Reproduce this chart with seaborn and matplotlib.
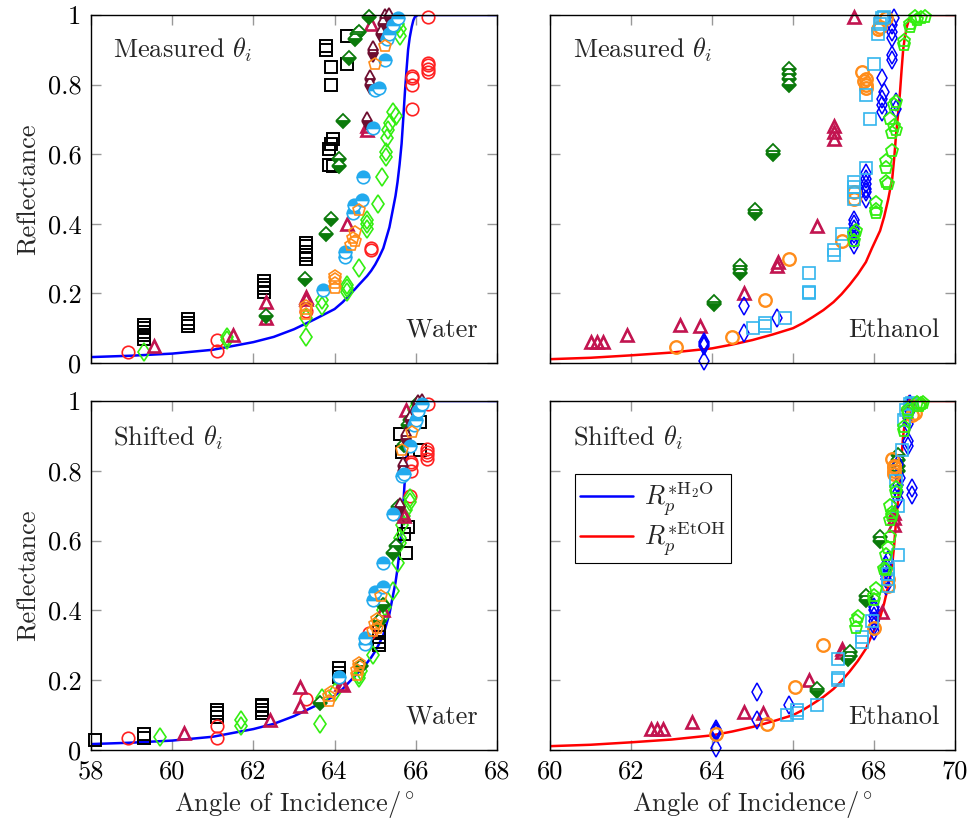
import numpy as np
import pandas as pd
import seaborn as sns
import matplotlib
matplotlib.use("Agg")
import matplotlib.pyplot as plt
from matplotlib.lines import Line2D

# ---------------- theory curves ----------------
water_curve_x = [58, 59, 60, 61, 62, 62.5, 63, 63.5, 64, 64.2, 64.5, 64.6, 64.8, 64.9, 65.0, 65.1,
                 65.2, 65.25, 65.35, 65.4, 65.45, 65.5, 65.55, 65.6, 65.65, 65.69, 65.73, 65.77,
                 65.81, 65.85, 65.9, 65.94, 65.98, 66.05, 68]
water_curve_y = [0.017, 0.021, 0.027, 0.038, 0.06, 0.075, 0.097, 0.125, 0.155, 0.175, 0.212, 0.225,
                 0.25, 0.265, 0.283, 0.305, 0.33, 0.35, 0.39, 0.42, 0.45, 0.48, 0.52, 0.57, 0.63,
                 0.70, 0.775, 0.84, 0.90, 0.935, 0.966, 0.985, 0.995, 1.0, 1.0]
etoh_curve_x = [60, 61, 62, 63, 64, 64.5, 65, 65.5, 66, 66.25, 66.5, 66.75, 67, 67.2, 67.4, 67.6,
                67.8, 67.95, 68.15, 68.25, 68.35, 68.4, 68.45, 68.5, 68.54, 68.59, 68.64, 68.68,
                68.72, 68.76, 68.81, 68.86, 68.93, 69.0, 70]
etoh_curve_y = [0.011, 0.015, 0.022, 0.03, 0.042, 0.053, 0.066, 0.082, 0.10, 0.115, 0.133, 0.152,
                0.175, 0.198, 0.225, 0.255, 0.29, 0.33, 0.38, 0.42, 0.47, 0.50, 0.53, 0.59, 0.65,
                0.71, 0.775, 0.84, 0.90, 0.935, 0.966, 0.985, 0.997, 1.0, 1.0]

# ---------------- water, measured ----------------
w_sq_m_x = [59.3, 59.3, 59.3, 59.3, 59.3, 60.4, 60.4, 60.4, 62.25, 62.25, 62.25, 62.25, 63.3, 63.3,
            63.3, 63.3, 63.3, 63.85, 63.95, 63.85, 63.9, 63.95, 63.9, 63.9, 63.8, 63.8, 64.3, 64.3]
w_sq_m_y = [0.07, 0.08, 0.09, 0.10, 0.11, 0.105, 0.115, 0.125, 0.205, 0.215, 0.225, 0.235, 0.30,
            0.31, 0.32, 0.335, 0.345, 0.57, 0.565, 0.615, 0.63, 0.645, 0.80, 0.85, 0.90, 0.91, 0.86, 0.94]
w_rc_m_x = [58.9, 61.1, 61.1, 63.3, 64.9, 64.9, 65.9, 65.9, 65.9, 65.9, 66.3, 66.3, 66.3, 66.3, 66.3]
w_rc_m_y = [0.032, 0.066, 0.035, 0.15, 0.325, 0.33, 0.82, 0.825, 0.80, 0.73, 0.835, 0.845, 0.855,
            0.862, 0.995]
w_ld_m_x = [59.3, 61.35, 61.35, 63.3, 63.3, 63.7, 63.7, 64.3, 64.3, 64.3, 64.6, 64.8, 64.8, 64.8,
            65.07, 65.17, 65.27, 65.27, 65.28, 65.32, 65.36, 65.5, 65.45, 65.6, 65.6, 65.55]
w_ld_m_y = [0.032, 0.065, 0.075, 0.075, 0.13, 0.165, 0.18, 0.205, 0.215, 0.225, 0.273, 0.385, 0.40,
            0.41, 0.457, 0.535, 0.593, 0.607, 0.646, 0.67, 0.689, 0.71, 0.722, 0.94, 0.96, 0.975]
w_tr_m_x = [59.55, 61.5, 62.3, 62.3, 63.3, 63.3, 64.3, 64.8, 64.8, 64.9]
w_tr_m_y = [0.048, 0.08, 0.175, 0.13, 0.19, 0.185, 0.40, 0.68, 0.67, 0.975]
w_gd_m_x = [62.3, 63.28, 63.78, 63.9, 64.1, 64.1, 64.2, 64.35, 64.5, 64.55, 64.6, 64.85]
w_gd_m_y = [0.135, 0.24, 0.37, 0.415, 0.565, 0.585, 0.695, 0.875, 0.93, 0.945, 0.95, 0.995]
w_md_m_x = [64.8, 64.88, 64.88, 64.95, 64.95, 65.15, 65.2, 65.25, 65.35]
w_md_m_y = [0.695, 0.80, 0.815, 0.89, 0.90, 0.945, 0.975, 0.99, 0.995]
w_cc_m_x = [63.72, 64.25, 64.25, 64.45, 64.49, 64.68, 64.7, 64.95, 65.0, 65.1, 65.24, 65.3, 65.35,
            65.45, 65.55]
w_cc_m_y = [0.21, 0.305, 0.32, 0.43, 0.454, 0.468, 0.535, 0.675, 0.785, 0.79, 0.87, 0.93, 0.945,
            0.97, 0.99]
w_op_m_x = [63.3, 63.3, 63.3, 64.0, 64.0, 64.0, 64.0, 64.4, 64.5, 64.45, 64.5, 64.6, 65.0, 65.25]
w_op_m_y = [0.14, 0.155, 0.165, 0.215, 0.23, 0.24, 0.25, 0.34, 0.35, 0.36, 0.375, 0.44, 0.86, 0.91]

# ---------------- water, shifted ----------------
w_sq_s_x = [58.1, 59.3, 59.3, 61.1, 61.1, 61.1, 62.2, 62.2, 62.2, 62.2, 64.1, 64.1, 64.1, 65.1, 65.1,
            65.1, 65.1, 65.75, 65.7, 65.8, 65.65, 65.6, 66.1, 66.1]
w_sq_s_y = [0.03, 0.035, 0.045, 0.095, 0.105, 0.115, 0.105, 0.115, 0.125, 0.13, 0.21, 0.22, 0.235,
            0.30, 0.31, 0.325, 0.34, 0.565, 0.62, 0.64, 0.855, 0.905, 0.86, 0.94]
w_rc_s_x = [58.9, 61.1, 61.1, 63.3, 64.85, 65.88, 65.88, 65.88, 65.85, 66.28, 66.28, 66.28, 66.28, 66.3]
w_rc_s_y = [0.034, 0.069, 0.035, 0.146, 0.335, 0.82, 0.825, 0.80, 0.728, 0.835, 0.845, 0.855,
            0.862, 0.99]
w_ld_s_x = [59.7, 61.7, 61.7, 63.65, 63.7, 64.0, 64.6, 64.6, 64.65, 64.95, 65.2, 65.2, 65.25, 65.45,
            65.55, 65.62, 65.62, 65.65, 65.7, 65.75, 65.85, 65.85, 66.0, 66.0, 65.95]
w_ld_s_y = [0.037, 0.07, 0.085, 0.075, 0.15, 0.165, 0.205, 0.215, 0.225, 0.273, 0.385, 0.40, 0.41,
            0.457, 0.535, 0.593, 0.607, 0.646, 0.67, 0.689, 0.71, 0.722, 0.94, 0.96, 0.975]
w_tr_s_x = [60.3, 62.4, 63.15, 63.15, 64.15, 64.2, 65.18, 65.68, 65.7, 65.75]
w_tr_s_y = [0.05, 0.085, 0.18, 0.125, 0.19, 0.185, 0.40, 0.68, 0.67, 0.975]
w_gd_s_x = [63.65, 64.65, 65.1, 65.2, 65.45, 65.5, 65.55, 65.7, 65.8, 65.85, 65.9, 66.05]
w_gd_s_y = [0.135, 0.24, 0.37, 0.415, 0.565, 0.585, 0.695, 0.875, 0.93, 0.945, 0.95, 0.995]
w_md_s_x = [65.6, 65.68, 65.68, 65.75, 65.75, 65.85, 66.0, 66.05, 66.15]
w_md_s_y = [0.695, 0.80, 0.815, 0.89, 0.90, 0.945, 0.975, 0.99, 0.995]
w_cc_s_x = [64.1, 64.75, 64.75, 64.95, 65.0, 65.2, 65.2, 65.45, 65.65, 65.7, 65.85, 65.95, 66.0,
            66.05, 66.15]
w_cc_s_y = [0.21, 0.305, 0.32, 0.43, 0.454, 0.468, 0.535, 0.675, 0.785, 0.79, 0.87, 0.93, 0.945,
            0.97, 0.99]
w_op_s_x = [63.85, 63.85, 63.9, 64.55, 64.55, 64.6, 64.6, 64.95, 65.05, 65.0, 65.05, 65.15, 65.65, 65.9]
w_op_s_y = [0.14, 0.155, 0.165, 0.215, 0.23, 0.24, 0.25, 0.34, 0.35, 0.36, 0.375, 0.44, 0.86, 0.91]

# ---------------- ethanol, measured ----------------
e_tr_m_x = [61.0, 61.15, 61.32, 61.9, 63.2, 63.7, 64.8, 65.6, 65.62, 66.6, 67.0, 67.0, 67.0, 67.5]
e_tr_m_y = [0.06, 0.06, 0.06, 0.08, 0.11, 0.105, 0.2, 0.28, 0.29, 0.395, 0.645, 0.665, 0.68, 0.995]
e_gd_m_x = [64.05, 64.05, 64.7, 64.7, 64.7, 65.05, 65.05, 65.5, 65.5, 65.9, 65.9, 65.9, 65.9]
e_gd_m_y = [0.17, 0.175, 0.26, 0.27, 0.28, 0.43, 0.44, 0.60, 0.61, 0.80, 0.815, 0.83, 0.845]
e_bd_m_x = [63.8, 63.8, 63.8, 63.8, 64.8, 64.8, 65.6, 67.8, 67.8, 67.8, 67.8, 67.8, 67.8, 67.5, 67.5,
            67.5, 67.5, 67.5, 67.5, 68.2, 68.2, 68.2, 68.25, 68.2, 68.45, 68.45, 68.45, 68.45, 68.45,
            68.5, 68.55, 68.55]
e_bd_m_y = [0.05, 0.055, 0.06, 0.005, 0.165, 0.085, 0.13, 0.47, 0.49, 0.50, 0.515, 0.53, 0.545, 0.34,
            0.355, 0.37, 0.385, 0.40, 0.41, 0.72, 0.74, 0.76, 0.78, 0.82, 0.87, 0.885, 0.935, 0.95,
            0.97, 0.99, 0.73, 0.75]
e_oc_m_x = [63.1, 64.5, 65.3, 65.9, 67.2, 67.5, 67.5, 67.7, 67.75, 67.8, 67.8, 67.8, 68.1, 68.15, 68.3]
e_oc_m_y = [0.045, 0.075, 0.18, 0.30, 0.35, 0.47, 0.49, 0.835, 0.81, 0.80, 0.79, 0.815, 0.96, 0.965, 0.99]
e_bs_m_x = [65.0, 65.3, 65.3, 65.8, 66.4, 66.4, 66.4, 67.0, 67.0, 67.2, 67.5, 67.5, 67.5, 67.5, 67.8,
            67.9, 67.8, 68.0, 68.1, 68.15, 68.2, 68.25]
e_bs_m_y = [0.10, 0.105, 0.115, 0.13, 0.20, 0.205, 0.26, 0.31, 0.325, 0.37, 0.47, 0.49, 0.505, 0.52,
            0.56, 0.70, 0.77, 0.86, 0.945, 0.975, 0.99, 0.995]
e_lp_m_x = [67.5, 67.5, 67.55, 68.05, 68.05, 68.05, 68.3, 68.35, 68.3, 68.3, 68.45, 68.45, 68.55, 68.5,
            68.4, 68.5, 68.55, 68.75, 68.75, 68.9, 68.9, 69.0, 69.05, 69.15, 69.25]
e_lp_m_y = [0.35, 0.37, 0.38, 0.43, 0.44, 0.46, 0.52, 0.515, 0.56, 0.58, 0.61, 0.66, 0.67, 0.68, 0.70,
            0.74, 0.75, 0.915, 0.925, 0.965, 0.975, 0.995, 0.985, 0.99, 0.995]

# ---------------- ethanol, shifted ----------------
e_tr_s_x = [62.5, 62.65, 62.8, 63.5, 64.8, 65.25, 66.4, 67.2, 67.2, 68.2, 68.5, 68.5, 68.5, 68.85]
e_tr_s_y = [0.06, 0.06, 0.06, 0.08, 0.11, 0.105, 0.2, 0.28, 0.29, 0.395, 0.645, 0.665, 0.68, 0.995]
e_gd_s_x = [66.6, 66.6, 67.35, 67.4, 67.4, 67.8, 67.8, 68.15, 68.15, 68.6, 68.6, 68.6, 68.6]
e_gd_s_y = [0.17, 0.175, 0.26, 0.27, 0.28, 0.43, 0.44, 0.60, 0.61, 0.80, 0.815, 0.83, 0.845]
e_bd_s_x = [64.1, 64.1, 64.1, 64.1, 65.1, 65.1, 65.9, 68.3, 68.3, 68.3, 68.3, 68.3, 68.35, 68.0, 68.0,
            68.0, 68.0, 68.0, 68.0, 68.6, 68.6, 68.6, 68.65, 68.6, 68.85, 68.85, 68.85, 68.85, 68.9,
            68.9, 68.95, 68.95]
e_bd_s_y = [0.05, 0.055, 0.06, 0.005, 0.165, 0.085, 0.13, 0.47, 0.49, 0.50, 0.515, 0.53, 0.545, 0.34,
            0.355, 0.37, 0.385, 0.40, 0.41, 0.72, 0.74, 0.76, 0.78, 0.82, 0.87, 0.885, 0.935, 0.95,
            0.97, 0.99, 0.73, 0.75]
e_oc_s_x = [64.1, 65.35, 66.05, 66.75, 68.0, 68.35, 68.35, 68.45, 68.5, 68.5, 68.5, 68.5, 68.95, 69.0, 69.1]
e_oc_s_y = [0.045, 0.075, 0.18, 0.30, 0.35, 0.47, 0.49, 0.835, 0.81, 0.80, 0.79, 0.815, 0.96, 0.965, 0.99]
e_bs_s_x = [65.85, 66.1, 66.1, 66.6, 67.1, 67.1, 67.1, 67.7, 67.7, 67.95, 68.35, 68.35, 68.35, 68.35,
            68.6, 68.6, 68.55, 68.7, 68.75, 68.8, 68.9, 68.95]
e_bs_s_y = [0.10, 0.105, 0.115, 0.13, 0.20, 0.205, 0.26, 0.31, 0.325, 0.37, 0.47, 0.49, 0.505, 0.52,
            0.56, 0.70, 0.77, 0.86, 0.945, 0.975, 0.99, 0.995]
e_lp_s_x = [67.55, 67.55, 67.6, 68.0, 68.0, 68.05, 68.25, 68.3, 68.3, 68.35, 68.4, 68.4, 68.45, 68.45,
            68.4, 68.55, 68.55, 68.75, 68.75, 68.85, 68.85, 69.05, 69.1, 69.15, 69.2]
e_lp_s_y = [0.35, 0.37, 0.38, 0.43, 0.44, 0.46, 0.52, 0.515, 0.56, 0.58, 0.61, 0.66, 0.67, 0.68, 0.70,
            0.74, 0.75, 0.915, 0.925, 0.965, 0.975, 0.995, 0.985, 0.99, 0.995]

y_ticks = [0, 0.2, 0.4, 0.6, 0.8, 1]
y_tick_labels = ["0", "0.2", "0.4", "0.6", "0.8", "1"]
xticks_water = [58, 60, 62, 64, 66, 68]
xticks_etoh = [60, 62, 64, 66, 68, 70]

# ---------------- style ----------------
sns.set_style("ticks")
plt.rcParams["font.family"] = ["cmr10", "DejaVu Serif"]
plt.rcParams["mathtext.fontset"] = "cm"
plt.rcParams["axes.formatter.use_mathtext"] = True
plt.rcParams["axes.unicode_minus"] = False

FS = 19
C_BLACK = "#000000"
C_RED = "#FF2020"
C_LIME = "#33EE11"
C_CRIM = "#C21450"
C_DGREEN = "#0B7A0B"
C_MAROON = "#6E0E30"
C_CYAN = "#22AAEE"
C_ORANGE = "#FF8C1A"
C_BLUE = "#0000FF"
C_LBLUE = "#33B5EE"


def draw(ax, xs, ys, marker, color, ms, mew, fill="none"):
    df = pd.DataFrame({"x": xs, "y": ys})
    kw = dict(marker=marker, markersize=ms, markeredgewidth=mew, markeredgecolor=color,
              linestyle="", clip_on=False)
    if fill == "none":
        kw["markerfacecolor"] = "none"
    else:
        kw.update(fillstyle=fill, markerfacecolor=color, markerfacecoloralt="white")
    sns.lineplot(data=df, x="x", y="y", ax=ax, estimator=None, sort=False, color=color, **kw)


def water_series(ax, kind):
    if kind == "m":
        S = [(w_sq_m_x, w_sq_m_y), (w_rc_m_x, w_rc_m_y), (w_ld_m_x, w_ld_m_y), (w_tr_m_x, w_tr_m_y),
             (w_gd_m_x, w_gd_m_y), (w_md_m_x, w_md_m_y), (w_cc_m_x, w_cc_m_y), (w_op_m_x, w_op_m_y)]
    else:
        S = [(w_sq_s_x, w_sq_s_y), (w_rc_s_x, w_rc_s_y), (w_ld_s_x, w_ld_s_y), (w_tr_s_x, w_tr_s_y),
             (w_gd_s_x, w_gd_s_y), (w_md_s_x, w_md_s_y), (w_cc_s_x, w_cc_s_y), (w_op_s_x, w_op_s_y)]
    sns.lineplot(x=water_curve_x, y=water_curve_y, ax=ax, color=C_BLUE, lw=1.8,
                 estimator=None, sort=False)
    draw(ax, *S[0], "s", C_BLACK, 9, 1.4)
    draw(ax, *S[1], "o", C_RED, 9, 1.2)
    draw(ax, *S[2], "d", C_LIME, 9.5, 1.2)
    draw(ax, *S[3], "^", C_CRIM, 8, 1.9)
    draw(ax, *S[4], "D", C_DGREEN, 7.5, 1.3, fill="bottom")
    draw(ax, *S[5], "d", C_MAROON, 9, 1.3, fill="bottom")
    draw(ax, *S[6], "o", C_CYAN, 9, 1.2, fill="top")
    draw(ax, *S[7], "p", C_ORANGE, 9, 1.2)


def etoh_series(ax, kind):
    if kind == "m":
        S = [(e_tr_m_x, e_tr_m_y), (e_gd_m_x, e_gd_m_y), (e_bd_m_x, e_bd_m_y), (e_oc_m_x, e_oc_m_y),
             (e_bs_m_x, e_bs_m_y), (e_lp_m_x, e_lp_m_y)]
    else:
        S = [(e_tr_s_x, e_tr_s_y), (e_gd_s_x, e_gd_s_y), (e_bd_s_x, e_bd_s_y), (e_oc_s_x, e_oc_s_y),
             (e_bs_s_x, e_bs_s_y), (e_lp_s_x, e_lp_s_y)]
    sns.lineplot(x=etoh_curve_x, y=etoh_curve_y, ax=ax, color="#FF0000", lw=1.8,
                 estimator=None, sort=False)
    draw(ax, *S[0], "^", C_CRIM, 8, 1.9)
    draw(ax, *S[1], "D", C_DGREEN, 7.5, 1.3, fill="bottom")
    draw(ax, *S[2], "d", C_BLUE, 9, 1.1)
    draw(ax, *S[3], "o", C_ORANGE, 9, 1.7)
    draw(ax, *S[4], "s", C_LBLUE, 8.5, 1.2)
    draw(ax, *S[5], "p", C_LIME, 9.5, 1.3)


fig = plt.figure(figsize=(9.71, 8.25), dpi=100)
fig.patch.set_facecolor("white")
W, H = 971.0, 825.0
ax_tl = fig.add_axes([91 / W, (825 - 363) / H, 406 / W, 348 / H])
ax_tr = fig.add_axes([550 / W, (825 - 363) / H, 405 / W, 348 / H])
ax_bl = fig.add_axes([91 / W, (825 - 750) / H, 406 / W, 349 / H])
ax_br = fig.add_axes([550 / W, (825 - 750) / H, 405 / W, 349 / H])

water_series(ax_tl, "m")
water_series(ax_bl, "s")
etoh_series(ax_tr, "m")
etoh_series(ax_br, "s")

for ax, xt in [(ax_tl, xticks_water), (ax_bl, xticks_water), (ax_tr, xticks_etoh), (ax_br, xticks_etoh)]:
    ax.set_xlim(xt[0], xt[-1])
    ax.set_ylim(0, 1)
    ax.set_xticks(xt)
    ax.set_xticklabels([str(v) for v in xt])
    ax.set_yticks(y_ticks)
    ax.set_yticklabels(y_tick_labels)
    ax.set_xlabel("")
    ax.set_ylabel("")
    ax.tick_params(direction="in", length=7, width=1, color="#999999", labelcolor="black",
                   labelsize=FS, top=True, right=True, pad=7)
    for sp in ax.spines.values():
        sp.set_visible(True)
        sp.set_color("black")
        sp.set_linewidth(1.0)
    ax.set_facecolor("white")

for ax in (ax_tl, ax_tr):
    ax.tick_params(labelbottom=False)
for ax in (ax_tr, ax_br):
    ax.tick_params(labelleft=False)

for ax in (ax_tl, ax_bl):
    ax.set_ylabel("Reflectance", fontsize=FS, labelpad=5)
for ax in (ax_bl, ax_br):
    ax.set_xlabel(r"Angle of Incidence/$^\circ$", fontsize=FS, labelpad=4)

ax_tl.text(0.054, 0.90, r"Measured $\theta_i$", transform=ax_tl.transAxes, fontsize=FS,
           ha="left", va="center")
ax_tr.text(0.057, 0.90, r"Measured $\theta_i$", transform=ax_tr.transAxes, fontsize=FS,
           ha="left", va="center")
ax_bl.text(0.054, 0.895, r"Shifted $\theta_i$", transform=ax_bl.transAxes, fontsize=FS,
           ha="left", va="center")
ax_br.text(0.057, 0.895, r"Shifted $\theta_i$", transform=ax_br.transAxes, fontsize=FS,
           ha="left", va="center")
ax_tl.text(0.953, 0.095, "Water", transform=ax_tl.transAxes, fontsize=FS, ha="right", va="center")
ax_bl.text(0.953, 0.095, "Water", transform=ax_bl.transAxes, fontsize=FS, ha="right", va="center")
ax_tr.text(0.963, 0.095, "Ethanol", transform=ax_tr.transAxes, fontsize=FS, ha="right", va="center")
ax_br.text(0.963, 0.095, "Ethanol", transform=ax_br.transAxes, fontsize=FS, ha="right", va="center")

handles = [Line2D([], [], color=C_BLUE, lw=1.8), Line2D([], [], color="#FF0000", lw=1.8)]
labels = [r"$R_p^{*\mathrm{H_2O}}$", r"$R_p^{*\mathrm{EtOH}}$"]
leg = ax_br.legend(handles, labels, loc="upper left", bbox_to_anchor=(0.062, 0.79),
                   borderaxespad=0, fontsize=FS, frameon=True, fancybox=False, framealpha=1,
                   edgecolor="black", handlelength=2.0, handletextpad=0.4, labelspacing=0.05,
                   borderpad=0.2)
leg.get_frame().set_linewidth(0.8)

fig.savefig("out.png", dpi=100, facecolor="white")
